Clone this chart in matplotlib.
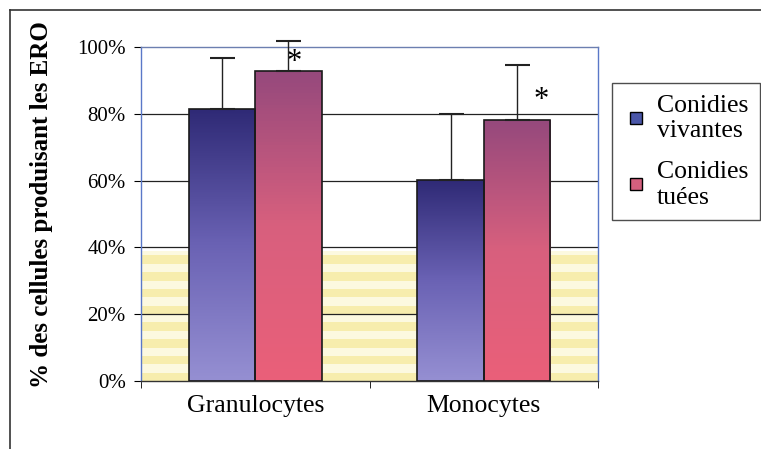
import matplotlib
matplotlib.use('Agg')
import matplotlib.pyplot as plt
import numpy as np
from matplotlib.colors import LinearSegmentedColormap
from matplotlib.lines import Line2D
from matplotlib.ticker import FuncFormatter

# data (percent)
categories = ['Granulocytes', 'Monocytes']
series = ['Conidies\nvivantes', 'Conidies\ntuées']
vivantes = [81.5, 60.2]
vivantes_err = [15.2, 19.6]
tuees = [92.8, 78.0]
tuees_err = [9.0, 16.6]
signif = ['*', '*']

plt.rcParams['font.family'] = ['Liberation Serif', 'DejaVu Serif']

fig = plt.figure(figsize=(7.61, 4.49), dpi=100)
ax = fig.add_axes([0.1853, 0.1514, 0.6005, 0.7439])

x = np.arange(len(categories))
w = 0.29

#background: white top, pale striped yellow below ~40%
rows = 80
bg = np.ones((rows, 1, 3))
for i in range(int(rows * 0.39)):
        bg[i, 0] = (0.97, 0.93, 0.68) if i % 4 in (0, 1) else (0.99, 0.98, 0.88)
ax.imshow(bg, extent=[0, 1, 0, 1], transform=ax.transAxes, origin='lower',
          aspect='auto', zorder=0, interpolation='nearest')

blue_cm = LinearSegmentedColormap.from_list('b', ['#958fd2', '#6a62b4', '#2f2a76'])
red_cm = LinearSegmentedColormap.from_list('r', ['#ea5f79', '#d8607e', '#96497c'])

grad = np.linspace(0, 1, 100).reshape(-1, 1)

def gradient_bars(xs, vals, errs, cmap):
        bars = ax.bar(xs, vals, w, facecolor='none', edgecolor='#1a1a1a', linewidth=1.2, zorder=3)
        for b in bars:
                bx, by = b.get_x(), b.get_y()
                im = ax.imshow(grad, extent=[bx, bx + b.get_width(), by, by + b.get_height()],
                               origin='lower', aspect='auto', cmap=cmap, zorder=2)
                im.set_clip_path(b)
        ax.errorbar(xs, vals, yerr=[np.zeros(len(vals)), errs], fmt='none', ecolor='#222222',
                    elinewidth=1.0, capsize=9, capthick=1.5, zorder=4, clip_on=False)

gradient_bars(x - w / 2, vivantes, vivantes_err, blue_cm)
gradient_bars(x + w / 2, tuees, tuees_err, red_cm)

ax.text(0.17, 95.5, signif[0], fontsize=22, ha='center', va='center')
ax.text(1.25, 84.0, signif[1], fontsize=22, ha='center', va='center')

ax.set_xlim(-0.5, 1.5)
ax.set_ylim(0, 100)
ax.set_yticks(np.arange(0, 101, 20))
ax.yaxis.set_major_formatter(FuncFormatter(lambda v, p: '%d%%' % v))
ax.set_xticks(x)
ax.set_xticklabels(categories, fontsize=18.5)
ax.tick_params(axis='x', length=0, pad=10)
ax.set_xticks([-0.5, 0.5, 1.5], minor=True)
ax.tick_params(axis='x', which='minor', length=5, direction='out')
ax.tick_params(axis='y', labelsize=15, length=5, direction='out', pad=6)
for g in [20, 40, 60, 80]:
        ax.axhline(g, color='#222222', linewidth=0.9, zorder=1)
ax.spines['top'].set_color('#6c7fb0')
ax.spines['top'].set_linestyle((0, (4, 1)))
ax.spines['right'].set_color('#5a78c8')
ax.spines['left'].set_color('#5a78c8')
ax.spines['bottom'].set_color('#333333')
for s in ax.spines.values():
        s.set_linewidth(1.0)

fig.text(0.054, 0.545, '% des cellules produisant les ERO', rotation=90, fontsize=18,
         fontweight='bold', ha='center', va='center')

handles = [Line2D([], [], linestyle='none', marker='s', markersize=9, markerfacecolor='#4a56a8',
                  markeredgecolor='black'),
           Line2D([], [], linestyle='none', marker='s', markersize=9, markerfacecolor='#d4607e',
                  markeredgecolor='black')]
leg = fig.legend(handles, series, loc='upper left', bbox_to_anchor=(612 / 761, 1 - 83 / 449),
                 fontsize=18.5, frameon=True, fancybox=False, handlelength=1.0,
                 handletextpad=0.3, borderpad=0.45, labelspacing=0.75, borderaxespad=0)
leg.get_frame().set_edgecolor('#222222')
leg.get_frame().set_linewidth(1.0)
for t in leg.get_texts():
        t.set_linespacing(1.2)

#outer chart frame (top and left edges visible)
fig.add_artist(Line2D([10 / 761, 1], [1 - 10 / 449, 1 - 10 / 449], color='#333333', linewidth=1.2))
fig.add_artist(Line2D([10 / 761, 10 / 761], [0, 1 - 10 / 449], color='#333333', linewidth=1.2))

fig.savefig('out.png', dpi=100)
